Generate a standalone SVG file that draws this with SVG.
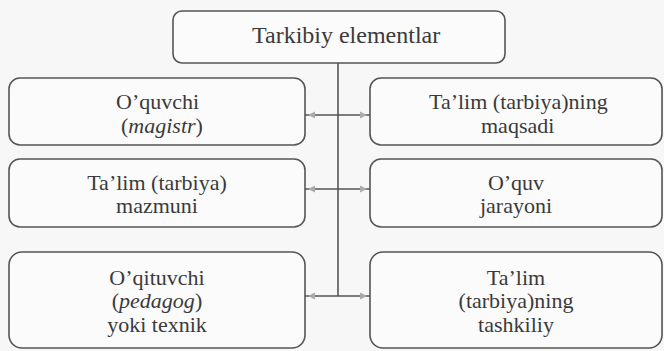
<svg xmlns="http://www.w3.org/2000/svg" width="664" height="351" viewBox="0 0 664 351">
  <style>
    .box { fill: #fbfbfb; stroke: #555; stroke-width: 1.6; }
    .ln { stroke: #555; stroke-width: 1.6; fill: none; }
    .tip { fill: #aaa; }
  </style>
  <rect x="0" y="0" width="664" height="351" fill="#f7f7f7"/>

  <g id="connectors">
    <line class="ln" x1="338" y1="63" x2="338" y2="296"/>
    <line class="ln" x1="305" y1="115" x2="370" y2="115"/>
    <line class="ln" x1="305" y1="189" x2="370" y2="189"/>
    <line class="ln" x1="305" y1="296" x2="370" y2="296"/>
    <g class="tip">
      <polygon points="308,115 315,111.5 315,118.5"/>
      <polygon points="367,115 360,111.5 360,118.5"/>
      <polygon points="308,189 315,185.5 315,192.5"/>
      <polygon points="367,189 360,185.5 360,192.5"/>
      <polygon points="308,296 315,292.5 315,299.5"/>
      <polygon points="367,296 360,292.5 360,299.5"/>
    </g>
  </g>

  <g id="top">
    <rect class="box" x="173" y="11" width="332" height="52" rx="9"/>
    <text x="252" y="43" font-family="Times New Roman" font-size="24" fill="#3a3a3a">Tarkibiy elementlar</text>
  </g>

  <g id="left1">
    <rect class="box" x="9" y="78" width="296" height="67" rx="11"/>
    <text x="116" y="109" font-family="Liberation Serif" font-size="22" fill="#3a3a3a">O’quvchi</text>
    <text x="121" y="133" font-family="Liberation Serif" font-size="22" fill="#3a3a3a">(<tspan font-style="italic">magistr</tspan>)</text>
  </g>

  <g id="right1">
    <rect class="box" x="370" y="78" width="292" height="67" rx="11"/>
    <text x="429" y="109" font-family="serif" font-size="22" fill="#3a3a3a">Ta’lim (tarbiya)ning</text>
    <text x="481" y="133" font-family="serif" font-size="22" fill="#3a3a3a">maqsadi</text>
  </g>

  <g id="left2">
    <rect class="box" x="9" y="159" width="296" height="68" rx="11"/>
    <text x="157" y="190" font-family="Liberation Serif" font-size="22" fill="#3a3a3a" text-anchor="middle">Ta’lim (tarbiya)</text>
    <text x="157" y="213" font-family="Liberation Serif" font-size="22" fill="#3a3a3a" text-anchor="middle">mazmuni</text>
  </g>

  <g id="right2">
    <rect class="box" x="370" y="159" width="292" height="68" rx="11"/>
    <text x="516" y="190" font-family="Times New Roman, serif" font-size="22" fill="#3a3a3a" text-anchor="middle">O’quv</text>
    <text x="516" y="213" font-family="Times New Roman, serif" font-size="22" fill="#3a3a3a" text-anchor="middle">jarayoni</text>
  </g>

  <g id="left3">
    <rect class="box" x="9" y="252" width="296" height="96" rx="13"/>
    <text x="157" y="285" font-family="Liberation Serif" font-size="22" fill="#3a3a3a" text-anchor="middle">O’qituvchi</text>
    <text x="157" y="308" font-family="Liberation Serif" font-size="22" fill="#3a3a3a" text-anchor="middle">(<tspan font-style="italic">pedagog</tspan>)</text>
    <text x="157" y="332" font-family="Liberation Serif" font-size="22" fill="#3a3a3a" text-anchor="middle">yoki texnik</text>
  </g>

  <g id="right3">
    <rect class="box" x="370" y="252" width="292" height="96" rx="13"/>
    <text x="516" y="285" font-family="Liberation Serif" font-size="22" fill="#3a3a3a" text-anchor="middle">Ta’lim</text>
    <text x="516" y="308" font-family="Liberation Serif" font-size="22" fill="#3a3a3a" text-anchor="middle">(tarbiya)ning</text>
    <text x="516" y="332" font-family="Liberation Serif" font-size="22" fill="#3a3a3a" text-anchor="middle">tashkiliy</text>
  </g>
</svg>
